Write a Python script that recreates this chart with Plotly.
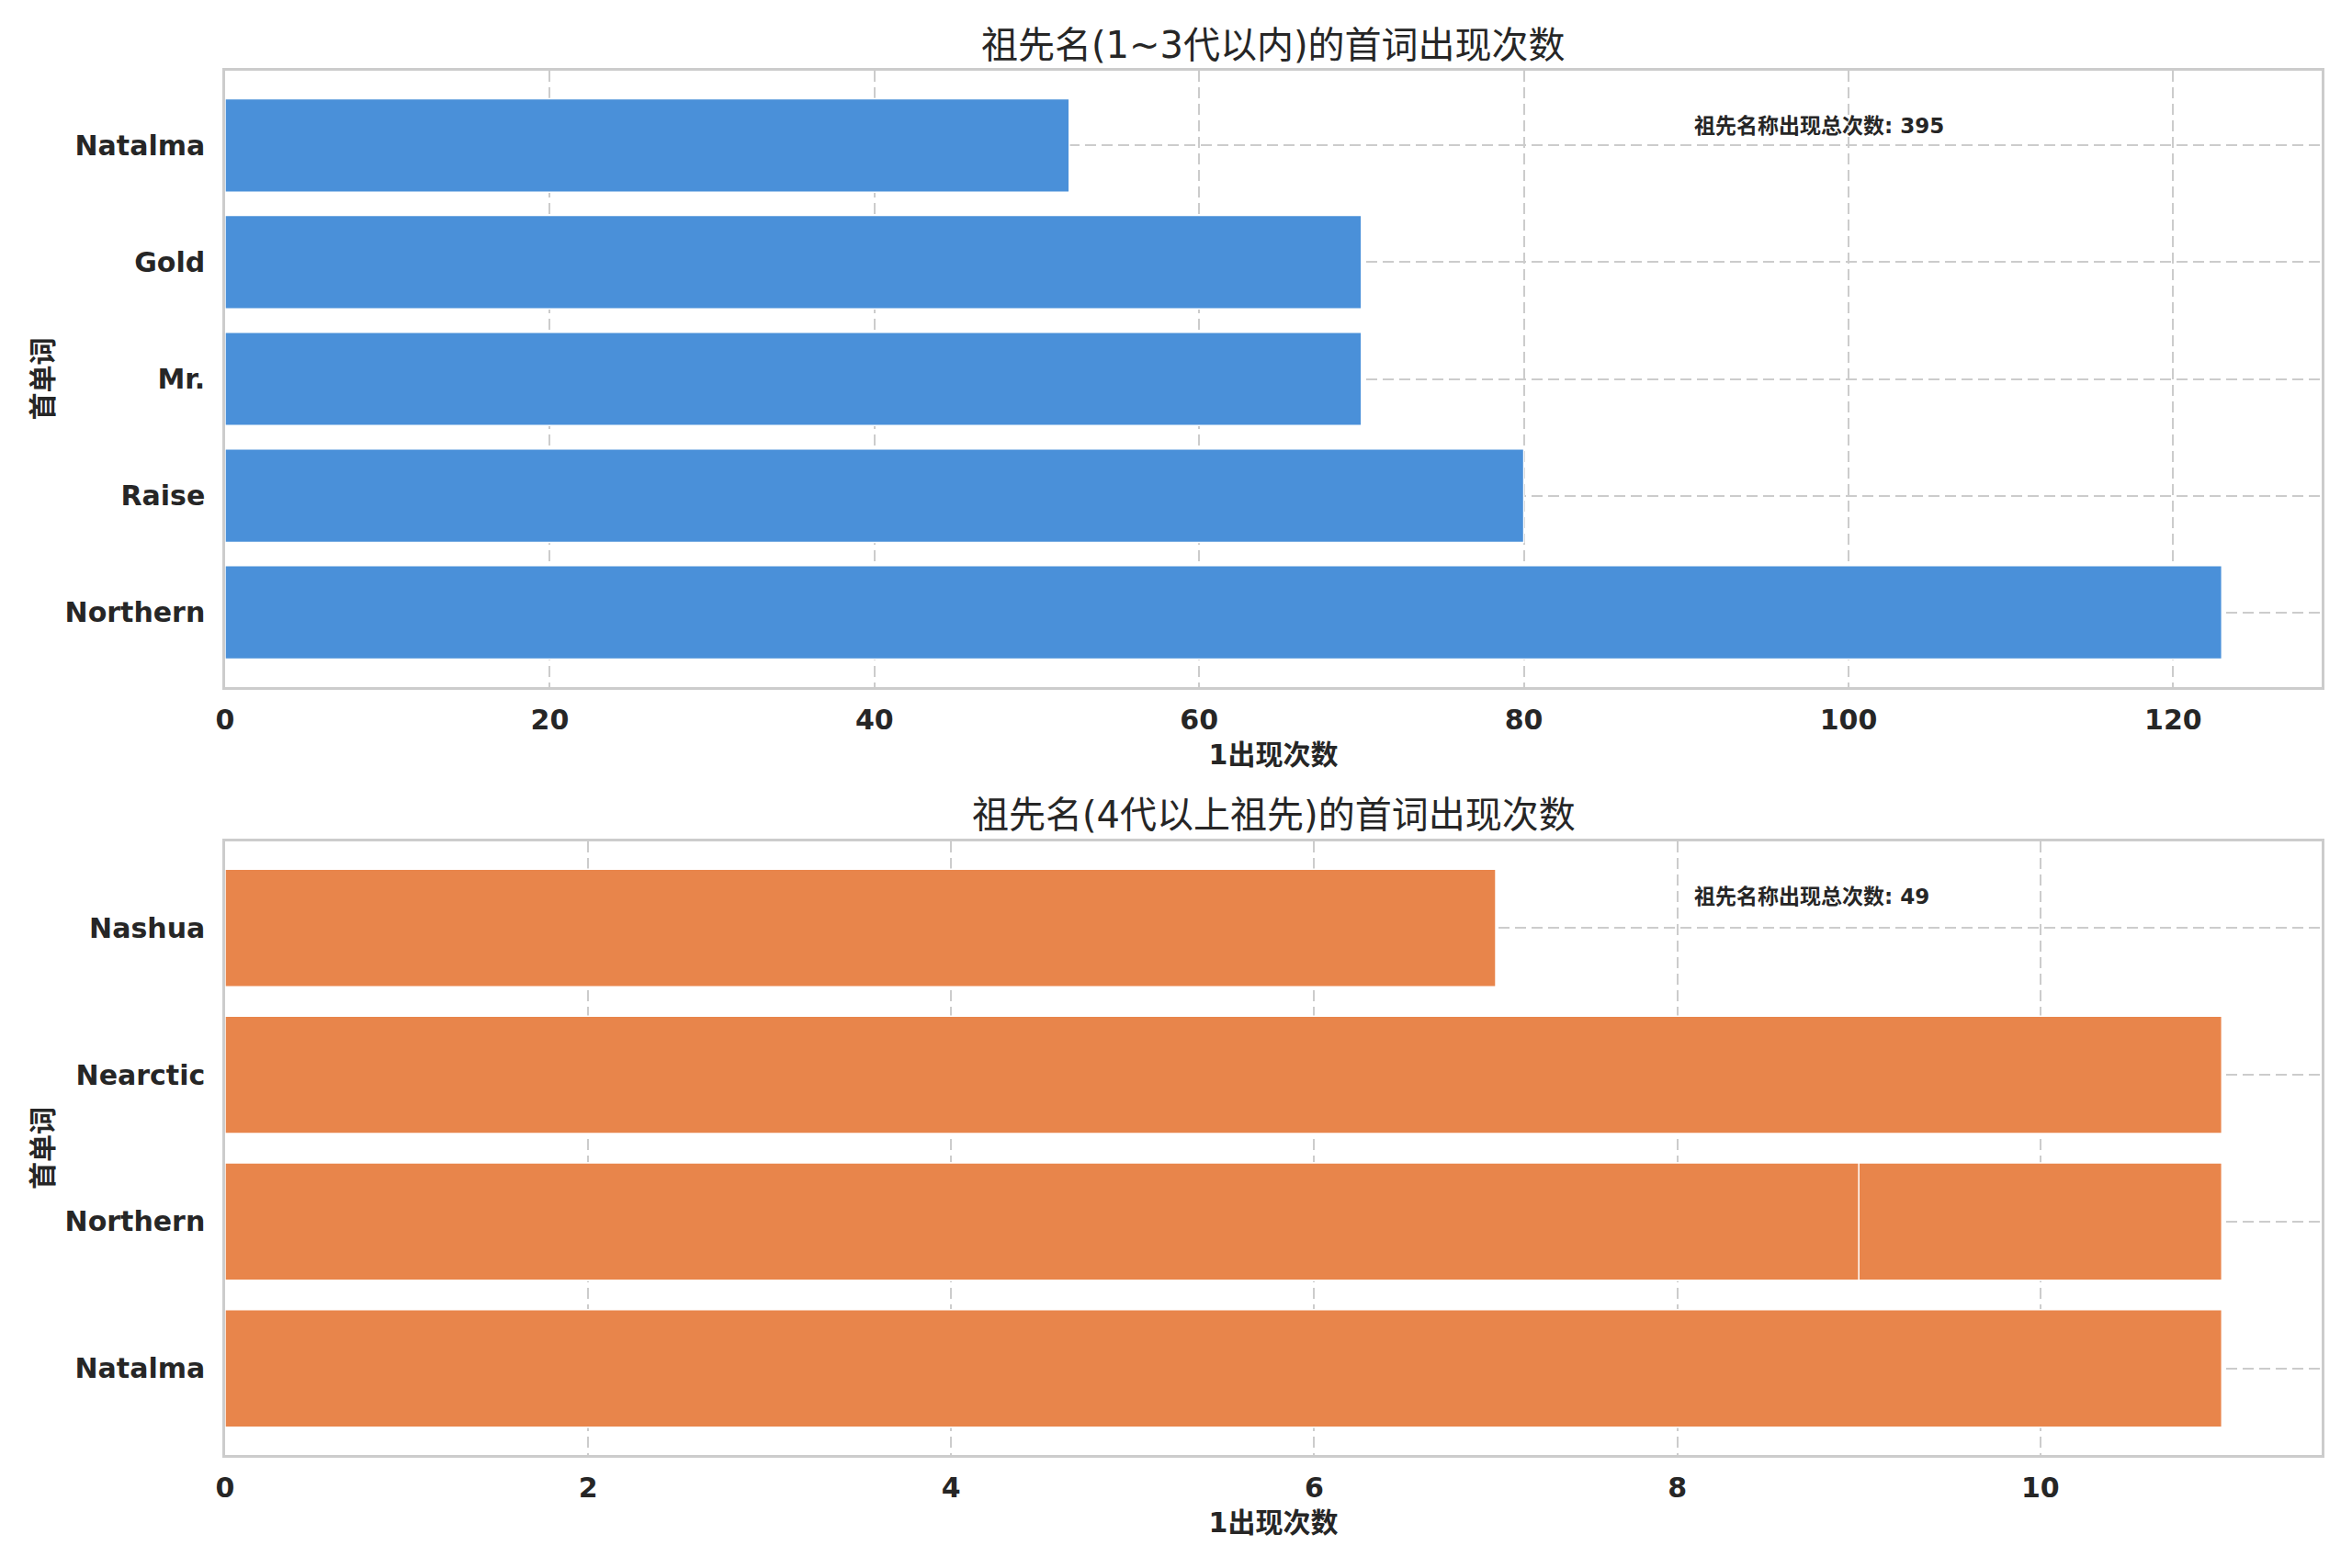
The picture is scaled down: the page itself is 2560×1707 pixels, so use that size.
import plotly.graph_objects as go

# ---- data ----
top_names = ["Northern", "Raise", "Mr.", "Gold", "Natalma"]
top_counts = [123, 80, 70, 70, 52]
top_categories = ["Northern", "Raise", "Mr.", "Gold", "Natalma"]

bot_names = ["Natalma", "Northern", "Nearctic", "Northern", "Nashua"]
bot_counts = [11, 11, 11, 9, 7]
bot_categories = ["Natalma", "Northern", "Nearctic", "Nashua"]

top_xticks = [0, 20, 40, 60, 80, 100, 120]
bot_xticks = [0, 2, 4, 6, 8, 10]

title_top = "祖先名(1~3代以内)的首词出现次数"
title_bot = "祖先名(4代以上祖先)的首词出现次数"
x_title = "1出现次数"
y_title = "首单词"
total_label = "祖先名称出现总次数"

BLUE = "#4A90D9"
ORANGE = "#E8854B"
TEXT = "#262626"
GRID = "#cccccc"
FONT = "DejaVu Sans, Noto Sans CJK SC, sans-serif"

# page has an 8px body margin; size the figure so it fits the window exactly
OFF = 8
W = 2560 - 2 * OFF
H = 1707 - 2 * OFF


def px_x(p):
    return (p - OFF) / W


def px_y(p):
    return 1 - (p - OFF) / H


BAR_W = 0.8


def cat_range(n):
    # matplotlib-style 5% margins around the bar extents
    lo, hi = -BAR_W / 2, n - 1 + BAR_W / 2
    m = (hi - lo) * 0.05
    return [lo - m, hi + m]


def val_range(vals):
    return [0, max(vals) * 1.05]


fig = go.Figure()

fig.add_trace(go.Bar(
    x=top_counts, y=top_names, orientation="h", width=BAR_W,
    marker=dict(color=BLUE, line=dict(color="white", width=1.5)),
    xaxis="x", yaxis="y", showlegend=False,
))
fig.add_trace(go.Bar(
    x=bot_counts, y=bot_names, orientation="h", width=BAR_W,
    marker=dict(color=ORANGE, line=dict(color="white", width=1.5)),
    xaxis="x2", yaxis="y2", showlegend=False,
))

x_dom = [px_x(245), px_x(2527)]
top_dom = [px_y(748), px_y(77)]
bot_dom = [px_y(1584), px_y(916)]

axis_common = dict(
    showline=True, mirror=True, linecolor=GRID, linewidth=2.5,
    showgrid=True, gridcolor=GRID, gridwidth=2, griddash="12px,6px",
    zeroline=False, ticks="", color=TEXT, automargin=False,
    tickfont=dict(family=FONT, size=30, color=TEXT, weight="bold"),
)

label_font = dict(family=FONT, size=30, color=TEXT, weight="bold")

fig.update_layout(
    width=W, height=H,
    margin=dict(l=0, r=0, t=0, b=0, pad=0),
    paper_bgcolor="white", plot_bgcolor="white",
    font=dict(family=FONT, color=TEXT),
    barmode="overlay",
    xaxis=dict(
        domain=x_dom, anchor="y", range=val_range(top_counts),
        tickvals=top_xticks, ticktext=[str(v) for v in top_xticks],
        ticklabelstandoff=7,
        title=dict(text=x_title, font=label_font, standoff=12),
        **axis_common,
    ),
    yaxis=dict(
        domain=top_dom, anchor="x", type="category",
        categoryorder="array", categoryarray=top_categories,
        range=cat_range(len(top_categories)), ticklabelstandoff=13,
        **axis_common,
    ),
    xaxis2=dict(
        domain=x_dom, anchor="y2", range=val_range(bot_counts),
        tickvals=bot_xticks, ticktext=[str(v) for v in bot_xticks],
        ticklabelstandoff=7,
        title=dict(text=x_title, font=label_font, standoff=12),
        **axis_common,
    ),
    yaxis2=dict(
        domain=bot_dom, anchor="x2", type="category",
        categoryorder="array", categoryarray=bot_categories,
        range=cat_range(len(bot_categories)), ticklabelstandoff=13,
        **axis_common,
    ),
)

# y-axis titles
for yref in ("y domain", "y2 domain"):
    fig.add_annotation(
        text=y_title, xref="paper", yref=yref, x=px_x(46), y=0.5,
        xanchor="center", yanchor="middle", textangle=-90, showarrow=False,
        font=label_font,
    )

fig.add_annotation(
    text=title_top, xref="x domain", yref="paper", x=0.5, y=px_y(49),
    xanchor="center", yanchor="middle", showarrow=False,
    font=dict(family=FONT, size=40, color=TEXT),
)
fig.add_annotation(
    text=title_bot, xref="x2 domain", yref="paper", x=0.5, y=px_y(887),
    xanchor="center", yanchor="middle", showarrow=False,
    font=dict(family=FONT, size=40, color=TEXT),
)
fig.add_annotation(
    text=f"{total_label}: {sum(top_counts)}", xref="x domain", yref="y domain",
    x=0.70, y=0.91, xanchor="left", yanchor="middle", showarrow=False,
    font=dict(family=FONT, size=23, color=TEXT, weight="bold"),
)
fig.add_annotation(
    text=f"{total_label}: {sum(bot_counts)}", xref="x2 domain", yref="y2 domain",
    x=0.70, y=0.91, xanchor="left", yanchor="middle", showarrow=False,
    font=dict(family=FONT, size=23, color=TEXT, weight="bold"),
)

fig.write_html("out.html")
